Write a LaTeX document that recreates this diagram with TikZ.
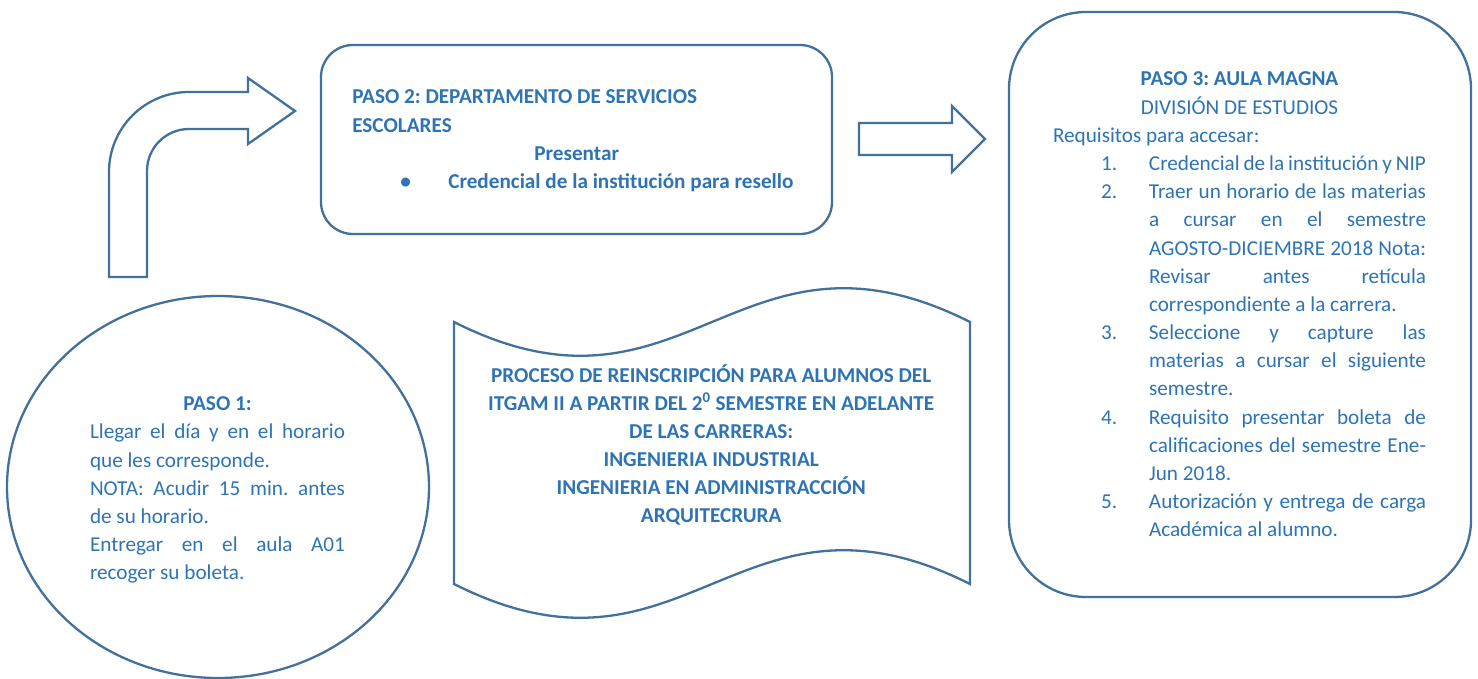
\documentclass[tikz,border=0pt]{standalone}
\usepackage{fontspec}
\setmainfont{Carlito}
\usetikzlibrary{shapes.geometric}
\definecolor{outl}{HTML}{41719C}
\definecolor{txtc}{HTML}{2E74B5}
\newcommand\Lj[1]{\hbox to\hsize{#1}}
\newcommand\Ll[1]{\hbox to\hsize{#1\hfil}}
\newcommand\Lc[1]{\hbox to\hsize{\hfil#1\hfil}}
\newcommand\Ij[2]{\hbox to\hsize{\hskip48pt\hbox to48pt{#1\hfil}\hbox to277pt{#2}\hss}}
\newcommand\Il[2]{\hbox to\hsize{\hskip48pt\hbox to48pt{#1\hfil}#2\hfil}}
\newcommand\blkset[1]{\frenchspacing\baselineskip=#1\lineskiplimit=-100pt\lineskip=0pt}
\begin{document}
\begin{tikzpicture}[x=1pt,y=-1pt,
  shp/.style={draw=outl, line width=2.3pt, fill=white},
  txt/.style={inner sep=0pt, outer sep=0pt, text=txtc, font=\fontsize{21.2}{28.2}\selectfont}]
\useasboundingbox (0,0) rectangle (1478,679);
\fill[white] (0,0) rectangle (1478,679);

% step 1 ellipse
\node[shp, ellipse, inner sep=0pt, minimum width=422pt, minimum height=382pt] (paso1) at (218,487) {};
% step 2 box
\node[shp, rectangle, rounded corners=32pt, inner sep=0pt, minimum width=511pt, minimum height=189pt] (paso2) at (576.5,139.5) {};
% step 3 box
\node[shp, rectangle, rounded corners=77pt, inner sep=0pt, minimum width=462pt, minimum height=585pt] (paso3) at (1240,304.5) {};

% bent arrow
\draw[shp, line join=miter] (109,277) -- (109,172) arc[start angle=180, end angle=270, radius=80] -- (248,92) -- (248,78) -- (295,111) -- (248,144) -- (248,129) -- (189,129) arc[start angle=270, end angle=180, radius=42] -- (147,277) -- cycle;

% right arrow
\draw[shp, line join=miter] (859,123) -- (952,123) -- (952,106) -- (985,139) -- (952,172) -- (952,155) -- (859,155) -- cycle;

% wave banner
\draw[shp] (454,322) .. controls (686,439) and (738,205) .. (970,322) -- (970,584) .. controls (738,467) and (686,701) .. (454,584) -- cycle;

% texts
\node[txt, anchor=base west] (t1) at (90,410.7) {\vtop{\hsize=255pt\blkset{28.2pt}%
  \Lc{\bfseries PASO 1:}
  \Lj{Llegar el día y en el horario}
  \Ll{que les corresponde.}
  \Lj{NOTA: Acudir 15 min. antes}
  \Ll{de su horario.}
  \Lj{Entregar en el aula A01}
  \Ll{recoger su boleta.}}};

\node[txt, anchor=base west] (t2) at (352.3,104) {\vtop{\hsize=448.8pt\blkset{28.3pt}\bfseries
  \Ll{PASO 2: DEPARTAMENTO DE SERVICIOS}
  \Ll{ESCOLARES}
  \Lc{Presentar}
  \hbox to\hsize{\hskip48pt\hbox to48pt{•\hfil}Credencial de la institución para resello\hss}}};

\node[txt, anchor=base] (t4) at (711.2,382.3) {\vtop{\hsize=520pt\blkset{28pt}\bfseries
  \Lc{PROCESO DE REINSCRIPCIÓN PARA ALUMNOS DEL}
  \Lc{ITGAM II A PARTIR DEL 2\textsuperscript{0} SEMESTRE EN ADELANTE}
  \Lc{DE LAS CARRERAS:}
  \Lc{INGENIERIA INDUSTRIAL}
  \Lc{INGENIERIA EN ADMINISTRACCIÓN}
  \Lc{ARQUITECRURA}}};

\node[txt, anchor=base west] (t3) at (1053,86) {\vtop{\hsize=373pt\blkset{28.17pt}%
  \Lc{\bfseries PASO 3: AULA MAGNA}
  \Lc{DIVISIÓN DE ESTUDIOS}
  \Ll{Requisitos para accesar:}
  \Il{1.}{Credencial de la institución y NIP}
  \Ij{2.}{Traer un horario de las materias}
  \Ij{}{a cursar en el semestre}
  \Ij{}{AGOSTO-DICIEMBRE 2018 Nota:}
  \Ij{}{Revisar antes retícula}
  \Il{}{correspondiente a la carrera.}
  \Ij{3.}{Seleccione y capture las}
  \Ij{}{materias a cursar el siguiente}
  \Il{}{semestre.}
  \Ij{4.}{Requisito presentar boleta de}
  \Ij{}{calificaciones del semestre Ene-}
  \Il{}{Jun 2018.}
  \Ij{5.}{Autorización y entrega de carga}
  \Il{}{Académica al alumno.}}};
\end{tikzpicture}
\end{document}
